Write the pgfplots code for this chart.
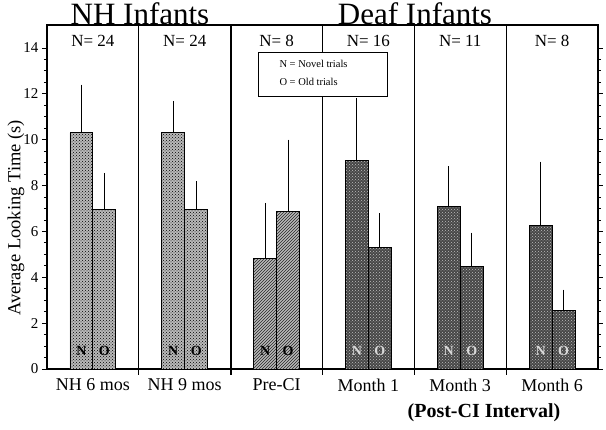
\documentclass[border=0pt]{standalone}
\usepackage{pgfplots}
\pgfplotsset{compat=1.18}
\usepackage{pgfplotstable}
\usetikzlibrary{patterns}
\usepackage{fontspec}
\setmainfont{Liberation Serif}

\pgfplotstableread{
x xn xo N Nerr O Oerr
0 -0.125 0.125 10.3 1.9 6.95 1.4
1 0.875 1.125 10.3 1.2 6.95 1.05
}\nh
\pgfplotstableread{
x xn xo N Nerr O Oerr
2 1.875 2.125 4.8 2.25 6.85 2.95
}\pre
\pgfplotstableread{
x xn xo N Nerr O Oerr
3 2.875 3.125 9.1 2.5 5.3 1.3
4 3.875 4.125 7.1 1.55 4.45 1.3
5 4.875 5.125 6.25 2.6 2.55 0.72
}\deaf

\begin{document}
\begin{tikzpicture}
\path[use as bounding box] (0pt,0pt) rectangle (606pt,430pt);
\begin{axis}[
  at={(47pt,61pt)}, anchor=south west,
  width=551pt, height=344pt, scale only axis,
  xmin=-0.5, xmax=5.5, ymin=0, ymax=15,
  xtick={0,1,2,3,4,5},
  xticklabels={NH 6 mos, NH 9 mos, Pre-CI, Month 1, Month 3, Month 6},
  x tick label style={font=\fontsize{18}{18}\selectfont, yshift=-1pt},
  major x tick style={draw=none},
  ytick={0,2,...,14},
  minor y tick num=3,
  tick align=outside,
  major tick length=5pt, minor tick length=3pt,
  y tick label style={font=\fontsize{15}{15}\selectfont},
  /pgf/number format/assume math mode=true,
  axis line style={line width=1.2pt},
  every tick/.style={black, line width=0.8pt},
  ybar, bar width=0.25, bar shift=0pt,
  error bars/error bar style={line width=0.9pt, black},
  error bars/error mark options={line width=0.9pt, mark size=4.5pt},
  clip=false,
]
% NH
\addplot[draw=black, line width=0.9pt, fill=gray!55, postaction={pattern=crosshatch dots, pattern color=black},
  error bars/.cd, y dir=plus, y explicit]
  table[x=xn, y=N, y error=Nerr]{\nh};
\addplot[draw=black, line width=0.9pt, fill=gray!55, postaction={pattern=crosshatch dots, pattern color=black},
  error bars/.cd, y dir=plus, y explicit]
  table[x=xo, y=O, y error=Oerr]{\nh};
% Pre-CI
\addplot[draw=black, line width=0.9pt, fill=gray!55, postaction={pattern=north east lines, pattern color=black!85},
  error bars/.cd, y dir=plus, y explicit]
  table[x=xn, y=N, y error=Nerr]{\pre};
\addplot[draw=black, line width=0.9pt, fill=gray!55, postaction={pattern=north east lines, pattern color=black!85},
  error bars/.cd, y dir=plus, y explicit]
  table[x=xo, y=O, y error=Oerr]{\pre};
% Deaf months
\addplot[draw=black, line width=0.9pt, fill=black!72, postaction={pattern=crosshatch dots, pattern color=white!75!black},
  error bars/.cd, y dir=plus, y explicit]
  table[x=xn, y=N, y error=Nerr]{\deaf};
\addplot[draw=black, line width=0.9pt, fill=black!72, postaction={pattern=crosshatch dots, pattern color=white!75!black},
  error bars/.cd, y dir=plus, y explicit]
  table[x=xo, y=O, y error=Oerr]{\deaf};

% panel dividers
\foreach \d/\w in {0.5/1.2pt, 1.5/2pt, 2.5/1.2pt, 3.5/1.2pt, 4.5/1.2pt} {
  \edef\tmp{\noexpand\draw[line width=\w] (axis cs:\d,0) ++(0pt,-6pt) -- (axis cs:\d,15);}
  \tmp
}
% N labels
\foreach \x/\n in {0/24, 1/24, 2/8, 3/16, 4/11, 5/8} {
  \edef\tmp{\noexpand\node[font=\noexpand\fontsize{17}{17}\noexpand\selectfont] at (axis cs:\x,14.3) {N= \n};}
  \tmp
}
% N / O letters in bars
\foreach \x in {0,1,2} {
  \edef\tmp{\noexpand\node[font=\noexpand\fontsize{14}{14}\noexpand\selectfont\noexpand\bfseries] at (axis cs:\x-0.125,0.8) {N};
  \noexpand\node[font=\noexpand\fontsize{14}{14}\noexpand\selectfont\noexpand\bfseries] at (axis cs:\x+0.125,0.8) {O};}
  \tmp
}
\foreach \x in {3,4,5} {
  \edef\tmp{\noexpand\node[text=white!85!black, font=\noexpand\fontsize{14}{14}\noexpand\selectfont\noexpand\bfseries] at (axis cs:\x-0.125,0.8) {N};
  \noexpand\node[text=white!85!black, font=\noexpand\fontsize{14}{14}\noexpand\selectfont\noexpand\bfseries] at (axis cs:\x+0.125,0.8) {O};}
  \tmp
}
\end{axis}
% y label
\node[rotate=90, font=\fontsize{18.5}{18.5}\selectfont] at (16pt,212pt) {Average Looking Time (s)};
% legend box
\draw[fill=white, line width=0.7pt] (258pt,378pt) rectangle (387pt,334pt);
\node[anchor=west, font=\fontsize{10.5}{10.5}\selectfont] at (276pt,366pt) {N = Novel trials};
\node[anchor=west, font=\fontsize{10.5}{10.5}\selectfont] at (276pt,348pt) {O = Old trials};
% titles
\node[anchor=base, font=\fontsize{31}{31}\selectfont] at (140pt,405pt) {NH Infants};
\node[anchor=base, font=\fontsize{31}{31}\selectfont] at (415pt,405pt) {Deaf Infants};
% x group label
\node[font=\fontsize{20}{20}\selectfont\bfseries] at (484pt,17pt) {(Post-CI Interval)};
\end{tikzpicture}
\end{document}
